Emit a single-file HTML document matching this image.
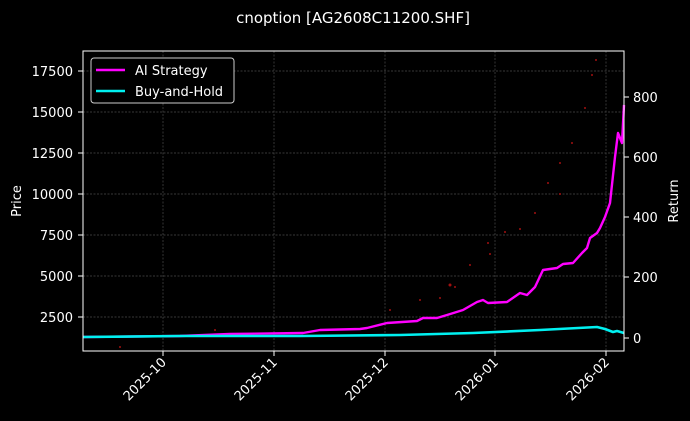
<!DOCTYPE html>
<html><head><meta charset="utf-8"><style>
html,body{margin:0;padding:0;background:#000;width:690px;height:421px;overflow:hidden}
svg{display:block;font-family:"DejaVu Sans","Liberation Sans",sans-serif}
</style></head><body>
<svg width="690" height="421" viewBox="0 0 690 421">
<rect width="690" height="421" fill="#000"/>
<text x="353" y="23" fill="#fff" font-size="15" text-anchor="middle">cnoption [AG2608C11200.SHF]</text>
<g stroke="#4a4a4a" stroke-width="0.7" stroke-dasharray="2,1.5">
<line x1="163" y1="51" x2="163" y2="351"/><line x1="274" y1="51" x2="274" y2="351"/>
<line x1="385" y1="51" x2="385" y2="351"/><line x1="495" y1="51" x2="495" y2="351"/>
<line x1="606" y1="51" x2="606" y2="351"/>
<line x1="83" y1="71" x2="624" y2="71"/><line x1="83" y1="112" x2="624" y2="112"/>
<line x1="83" y1="153" x2="624" y2="153"/><line x1="83" y1="194" x2="624" y2="194"/>
<line x1="83" y1="235" x2="624" y2="235"/><line x1="83" y1="276" x2="624" y2="276"/>
<line x1="83" y1="317" x2="624" y2="317"/>
</g>
<g fill="#a01010">
<circle cx="450" cy="285" r="1.5"/><circle cx="470" cy="265" r="1"/><circle cx="488" cy="243" r="1"/><circle cx="505" cy="232" r="1"/><circle cx="520" cy="229" r="1"/><circle cx="535" cy="213" r="1"/><circle cx="548" cy="183" r="1"/><circle cx="560" cy="163" r="1"/><circle cx="572" cy="143" r="1"/><circle cx="585" cy="108" r="1"/><circle cx="592" cy="75" r="1"/><circle cx="596" cy="60" r="1"/><circle cx="440" cy="298" r="1"/><circle cx="420" cy="300" r="1"/><circle cx="390" cy="310" r="1"/><circle cx="215" cy="330" r="1"/><circle cx="120" cy="347" r="1"/><circle cx="560" cy="194" r="1"/><circle cx="455" cy="287" r="1"/><circle cx="490" cy="254" r="1"/>
</g>
<polyline fill="none" stroke="#ff00ff" stroke-width="2.4" stroke-linejoin="round" points="83,337 180,336 230,334 303,333 320,330 360,329 367,328 387,323 417,321 423,318 437,318 447,315 463,310 477,302 483,300 488,303 507,302 520,293 527,295 535,287 543,270 557,268 563,264 573,263 582,253 587,248 590,238 597,233 600,228 605,217 610,203 615,157 618,133 620,138 622,143 624,105"/>
<polyline fill="none" stroke="#00f0f0" stroke-width="2.6" stroke-linejoin="round" points="83,337 180,336 300,336 400,335 473,333 540,330 597,327 605,329 613,332 617,331 624,333"/>
<rect x="83" y="51" width="541" height="300" fill="none" stroke="#fff" stroke-width="1"/>
<g fill="#fff" font-size="13" text-anchor="end">
<text x="73" y="76">17500</text><text x="73" y="117">15000</text><text x="73" y="158">12500</text>
<text x="73" y="199">10000</text><text x="73" y="240">7500</text><text x="73" y="281">5000</text><text x="73" y="322">2500</text>
</g>
<g stroke="#fff"><line x1="78" y1="71" x2="83" y2="71"/><line x1="78" y1="112" x2="83" y2="112"/><line x1="78" y1="153" x2="83" y2="153"/><line x1="78" y1="194" x2="83" y2="194"/><line x1="78" y1="235" x2="83" y2="235"/><line x1="78" y1="276" x2="83" y2="276"/><line x1="78" y1="317" x2="83" y2="317"/>
<line x1="624" y1="97" x2="629" y2="97"/><line x1="624" y1="157" x2="629" y2="157"/><line x1="624" y1="217" x2="629" y2="217"/><line x1="624" y1="277" x2="629" y2="277"/><line x1="624" y1="338" x2="629" y2="338"/>
<line x1="163" y1="351" x2="163" y2="356"/><line x1="274" y1="351" x2="274" y2="356"/><line x1="385" y1="351" x2="385" y2="356"/><line x1="495" y1="351" x2="495" y2="356"/><line x1="606" y1="351" x2="606" y2="356"/></g>
<g fill="#fff" font-size="13">
<text x="633" y="102">800</text><text x="633" y="162">600</text><text x="633" y="222">400</text><text x="633" y="282">200</text><text x="633" y="343">0</text>
</g>
<text transform="translate(21,201) rotate(-90)" fill="#fff" font-size="13" text-anchor="middle">Price</text>
<text transform="translate(678,201) rotate(-90)" fill="#fff" font-size="13" text-anchor="middle">Return</text>
<g fill="#fff" font-size="13" text-anchor="end">
<text transform="translate(167,363) rotate(-45)">2025-10</text>
<text transform="translate(278,363) rotate(-45)">2025-11</text>
<text transform="translate(389,363) rotate(-45)">2025-12</text>
<text transform="translate(499,363) rotate(-45)">2026-01</text>
<text transform="translate(610,363) rotate(-45)">2026-02</text>
</g>
<rect x="91" y="58" width="143" height="45" rx="3" fill="#000" stroke="#ccc" stroke-width="1"/>
<line x1="96" y1="70" x2="125" y2="70" stroke="#ff00ff" stroke-width="2.4"/>
<line x1="96" y1="91" x2="125" y2="91" stroke="#00f0f0" stroke-width="2.4"/>
<text x="135" y="75" fill="#fff" font-size="13">AI Strategy</text>
<text x="135" y="96" fill="#fff" font-size="13">Buy-and-Hold</text>
</svg>
</body></html>
